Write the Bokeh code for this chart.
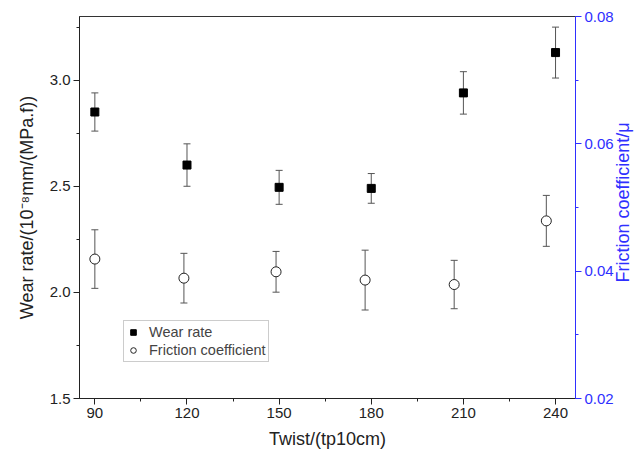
import math
from bokeh.plotting import figure
from bokeh.models import (Range1d, LinearAxis, FixedTicker, Whisker, ColumnDataSource,
                          Legend, LegendItem, TeeHead, PrintfTickFormatter, Label)
from bokeh.embed import file_html
from bokeh.resources import INLINE

# ---- data ----
twist = [90, 120, 150, 180, 210, 240]
wear_rate = [2.85, 2.60, 2.495, 2.49, 2.94, 3.13]
wear_err = [0.09, 0.10, 0.08, 0.07, 0.10, 0.12]

twist_fc = [90, 119, 149, 178, 207, 237]
friction = [0.0419, 0.0389, 0.0399, 0.0386, 0.0379, 0.0479]
friction_err = [0.0046, 0.0039, 0.0032, 0.0047, 0.0038, 0.0040]

x_ticks = [90, 120, 150, 180, 210, 240]
x_minor = [105, 135, 165, 195, 225]
y_ticks = [1.5, 2.0, 2.5, 3.0]
y_minor = [1.75, 2.25, 2.75, 3.25]
y2_ticks = [0.02, 0.04, 0.06, 0.08]
y2_minor = [0.03, 0.05, 0.07]

BLUE = "#2f2fff"
FONT = "Liberation Sans"

wsrc = ColumnDataSource(dict(x=twist, y=wear_rate,
                             lo=[v - e for v, e in zip(wear_rate, wear_err)],
                             hi=[v + e for v, e in zip(wear_rate, wear_err)]))
fsrc = ColumnDataSource(dict(x=twist_fc, y=friction,
                             lo=[v - e for v, e in zip(friction, friction_err)],
                             hi=[v + e for v, e in zip(friction, friction_err)]))

p = figure(frame_width=496, frame_height=382, output_backend="svg", toolbar_location=None,
           x_range=Range1d(85, 246.5), y_range=Range1d(1.5, 3.3),
           min_border_left=79, min_border_top=16, min_border_right=59, min_border_bottom=10,
           background_fill_color="white", border_fill_color="white")
p.grid.visible = False
p.outline_line_color = "#333333"
p.outline_line_width = 1

p.extra_y_ranges = {"fc": Range1d(0.02, 0.08)}

def style_axis(ax, color):
    ax.axis_line_color = color
    ax.major_tick_line_color = color
    ax.minor_tick_line_color = color
    ax.major_label_text_color = color
    ax.axis_label_text_color = color
    ax.major_tick_out = 6
    ax.major_tick_in = 0
    ax.minor_tick_out = 3
    ax.minor_tick_in = 0
    ax.major_label_text_font = FONT
    ax.major_label_text_font_size = "15px"
    ax.axis_label_text_font = FONT
    ax.axis_label_text_font_size = "18px"
    ax.axis_label_text_font_style = "normal"
    ax.major_label_standoff = 3

xa = p.xaxis[0]
style_axis(xa, "#222222")
xa.ticker = FixedTicker(ticks=x_ticks, minor_ticks=x_minor)
xa.formatter = PrintfTickFormatter(format="%d")
xa.axis_label = "Twist/(tp10cm)"
xa.axis_label_standoff = 8

ya = p.yaxis[0]
style_axis(ya, "#222222")
ya.ticker = FixedTicker(ticks=y_ticks, minor_ticks=y_minor)
ya.formatter = PrintfTickFormatter(format="%.1f")
ya.axis_label = "Wear rate/(10\u207b\u2078mm/(MPa.f))"
ya.axis_label_standoff = 10

ra = LinearAxis(y_range_name="fc")
style_axis(ra, BLUE)
ra.ticker = FixedTicker(ticks=y2_ticks, minor_ticks=y2_minor)
ra.formatter = PrintfTickFormatter(format="%.2f")
p.add_layout(ra, "right")

# right axis title, reading bottom-to-top as in the reference
rlab = Label(x=6, y=196, x_units="screen", y_units="screen",
             text="Friction coefficient/\u03bc", angle=math.pi / 2,
             text_align="center", text_baseline="middle",
             text_font=FONT, text_font_size="18px", text_color=BLUE)
p.add_layout(rlab, "right")

# error bars
w1 = Whisker(source=wsrc, base="x", lower="lo", upper="hi", line_color="#555555", line_width=1,
             upper_head=TeeHead(size=7, line_color="#555555", line_width=1),
             lower_head=TeeHead(size=7, line_color="#555555", line_width=1))
w2 = Whisker(source=fsrc, base="x", lower="lo", upper="hi", y_range_name="fc",
             line_color="#555555", line_width=1,
             upper_head=TeeHead(size=7, line_color="#555555", line_width=1),
             lower_head=TeeHead(size=7, line_color="#555555", line_width=1))
p.add_layout(w1)
p.add_layout(w2)

r1 = p.scatter("x", "y", source=wsrc, marker="square", size=8,
               fill_color="black", line_color="black")
r2 = p.scatter("x", "y", source=fsrc, marker="circle", size=10, y_range_name="fc",
               fill_color="white", line_color="#222222", line_width=1)

legend = Legend(items=[LegendItem(label="Wear rate", renderers=[r1]),
                       LegendItem(label="Friction coefficient", renderers=[r2])],
                location=(44, 36), orientation="vertical",
                label_text_font=FONT, label_text_font_size="14.5px",
                label_height=18, glyph_height=18, glyph_width=14, label_standoff=9,
                padding=2, spacing=0, margin=0,
                border_line_color="#999999", border_line_width=1,
                background_fill_alpha=1.0)
p.add_layout(legend, "center")

open("out.html", "w").write(file_html(p, INLINE))
